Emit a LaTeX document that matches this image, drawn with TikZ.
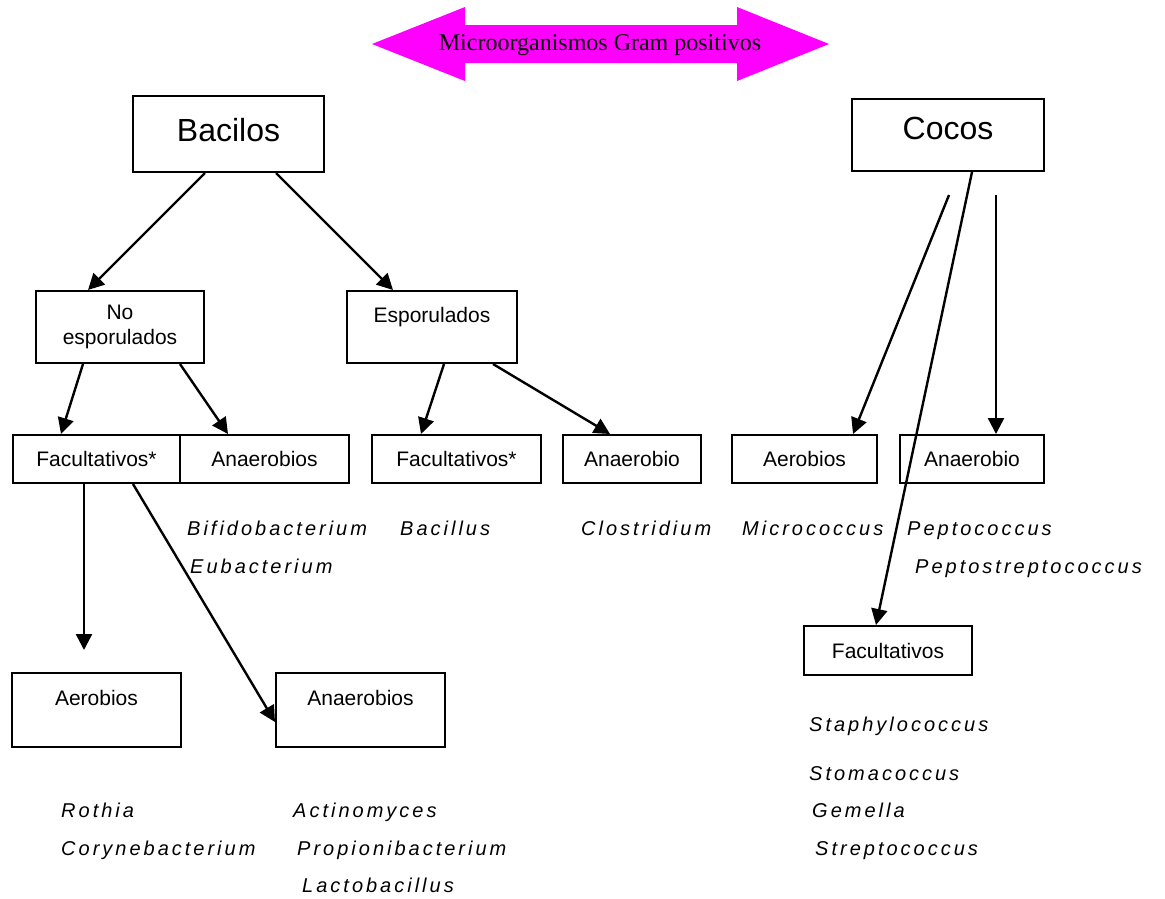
\documentclass[tikz,border=0pt]{standalone}
\usepackage{fontspec}
\setmainfont{Liberation Sans}
\newfontfamily\tnr{Liberation Serif}
\newfontfamily\spaced[LetterSpace=15]{Liberation Sans}
\usetikzlibrary{arrows.meta}
\definecolor{titlemag}{RGB}{255,0,255}
\begin{document}
\begin{tikzpicture}[x=1pt,y=-1pt,
 box/.style={draw, line width=2pt, inner sep=0pt, font=\fontsize{21}{25}\selectfont},
 bigtxt/.style={inner sep=0pt, anchor=base, font=\fontsize{32}{38}\selectfont},
 boxtxt/.style={inner sep=0pt, anchor=base, font=\fontsize{21}{25}\selectfont},
 genus/.style={anchor=base west, inner sep=0pt, font=\spaced\itshape\fontsize{20}{24}\selectfont},
 arr/.style={line width=2.4pt, -{Triangle[length=16pt,width=16pt]}}]
\useasboundingbox (0,0) rectangle (1165,898);
% title arrow
\fill[titlemag] (372,44) -- (465,7) -- (465,25) -- (737,25) -- (737,7) -- (829,44)
  -- (737,81) -- (737,63) -- (465,63) -- (465,81) -- cycle;
\node[inner sep=0pt, font=\tnr\fontsize{24}{28}\selectfont] (title) at (600,45) {Microorganismos Gram positivos};
% boxes
\node[box, minimum width=191pt, minimum height=76pt] (bac) at (228.5,134) {};
\node[bigtxt] (bact) at (228.5,141.5) {Bacilos};
\node[box, minimum width=192pt, minimum height=72pt] (coc) at (948,135) {};
\node[bigtxt] (coct) at (948,139.5) {Cocos};
\node[box, minimum width=168pt, minimum height=72pt, align=center] (ne) at (120,327) {No\\esporulados};
\node[box, minimum width=170pt, minimum height=72pt] (esp) at (432,327) {};
\node[boxtxt] (espt) at (432,322.5) {Esporulados};
\node[box, minimum width=167pt, minimum height=48pt] (fac1) at (96.5,459) {Facultativos*};
\node[box, minimum width=169pt, minimum height=48pt] (ana1) at (264.5,459) {Anaerobios};
\node[box, minimum width=169pt, minimum height=48pt] (fac2) at (456.5,459) {Facultativos*};
\node[box, minimum width=138pt, minimum height=48pt] (ana2) at (632,459) {Anaerobio};
\node[box, minimum width=145pt, minimum height=48pt] (aer2) at (804.5,459) {Aerobios};
\node[box, minimum width=144pt, minimum height=48pt] (ana4) at (972,459) {Anaerobio};
\node[box, minimum width=168pt, minimum height=49pt] (fac3) at (888,650.5) {Facultativos};
\node[box, minimum width=169pt, minimum height=74pt] (aer1) at (96.5,710) {};
\node[boxtxt] (aer1t) at (96.5,705.5) {Aerobios};
\node[box, minimum width=169pt, minimum height=74pt] (ana3) at (360.5,710) {};
\node[boxtxt] (ana3t) at (360.5,705.5) {Anaerobios};
\coordinate (aerTip) at (84,650);
% connectors
\draw[arr] ([xshift=-23.5pt]bac.south) -- ([xshift=-32pt]ne.north);
\draw[arr] ([xshift=47.5pt]bac.south) -- ([xshift=-39pt]esp.north);
\draw[arr] ([xshift=-37pt]ne.south) -- ([xshift=-35.5pt]fac1.north);
\draw[arr] ([xshift=60pt]ne.south) -- ([xshift=-36.5pt]ana1.north);
\draw[arr] ([xshift=12pt]esp.south) -- ([xshift=-35.5pt]fac2.north);
\draw[arr] ([xshift=61pt]esp.south) -- ([xshift=-22pt]ana2.north);
\draw[arr] ([xshift=-12.5pt]fac1.south) -- (aerTip);
\draw[arr] ([xshift=36.5pt]fac1.south) -- ([yshift=-12pt]ana3.west);
\draw[arr] ([xshift=1pt,yshift=-23pt]coc.south) -- ([xshift=48.5pt]aer2.north);
\draw[arr] ([xshift=24pt]coc.south) -- ([xshift=-12pt]fac3.north);
\draw[arr] ([xshift=48pt,yshift=-23pt]coc.south) -- ([xshift=24pt]ana4.north);
% genera
\node[genus] (g1) at (187,535) {Bifidobacterium};
\node[genus] (g2) at (190,573) {Eubacterium};
\node[genus] (g3) at (400,535) {Bacillus};
\node[genus] (g4) at (581,535) {Clostridium};
\node[genus] (g5) at (742,535) {Micrococcus};
\node[genus] (g6) at (907,535) {Peptococcus};
\node[genus] (g7) at (915,573) {Peptostreptococcus};
\node[genus] (g8) at (809,731) {Staphylococcus};
\node[genus] (g9) at (809,780) {Stomacoccus};
\node[genus] (g10) at (812,817) {Gemella};
\node[genus] (g11) at (815,855) {Streptococcus};
\node[genus] (g12) at (61,817) {Rothia};
\node[genus] (g13) at (61,855) {Corynebacterium};
\node[genus] (g14) at (293,817) {Actinomyces};
\node[genus] (g15) at (297,855) {Propionibacterium};
\node[genus] (g16) at (302,892) {Lactobacillus};
\end{tikzpicture}
\end{document}
